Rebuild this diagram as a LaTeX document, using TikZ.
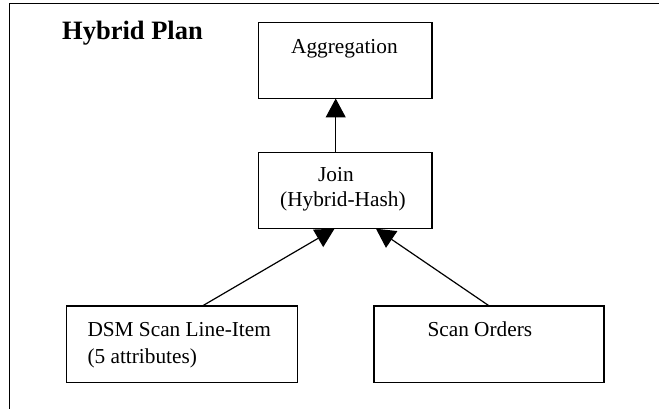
\documentclass[tikz,border=0pt]{standalone}
\usepackage{fontspec}
\setmainfont{Liberation Serif}
\usetikzlibrary{arrows.meta}
\begin{document}
\begin{tikzpicture}[x=1pt,y=-1pt,
  opbox/.style={draw=black, line width=1.4pt, fill=white, rectangle, inner sep=0pt, outer sep=0pt},
  lbl/.style={anchor=base west, inner sep=0pt, font=\fontsize{21.3}{25}\selectfont},
  ttl/.style={anchor=base west, inner sep=0pt, font=\fontsize{26.5}{30}\selectfont\bfseries},
  arr/.style={line width=1.2pt, -{Triangle[length=19pt,width=20pt]}},
  frame/.style={line width=1pt}]
\useasboundingbox (0,0) rectangle (659,409);
% frame
\coordinate (fb) at (9.5,409);
\coordinate (fc) at (9.5,3.5);
\coordinate (fr) at (659,3.5);
\draw[frame] (fb) -- (fc) -- (fr);
% boxes
\node[opbox, minimum width=173.5pt, minimum height=76.2pt] (agg) at (345.25,60.4) {};
\node[opbox, minimum width=173.5pt, minimum height=76.5pt] (join) at (345.25,190.5) {};
\node[opbox, minimum width=231pt, minimum height=76.5pt] (dsm) at (182.2,344.25) {};
\node[opbox, minimum width=230pt, minimum height=76.5pt] (scan) at (489,344.25) {};
% connectors
\draw[arr] ([xshift=-9.55pt]join.north) -- ([xshift=-9.55pt]agg.south);
\draw[arr] ([xshift=20.1pt]dsm.north) -- ([xshift=-10.75pt]join.south);
\draw[arr] ([xshift=0.3pt]scan.north) -- ([xshift=30.75pt]join.south);
% texts
\node[ttl] (title) at (62,39.3) {Hybrid Plan};
\node[lbl] (aggt) at (291,53.3) {Aggregation};
\node[lbl] (joint1) at (318,181.7) {Join};
\node[lbl] (joint2) at (280,206.7) {(Hybrid-Hash)};
\node[lbl] (dsmt1) at (87.3,336) {DSM Scan Line-Item};
\node[lbl] (dsmt2) at (87.3,363) {(5 attributes)};
\node[lbl] (scant) at (427.3,336) {Scan Orders};
\end{tikzpicture}
\end{document}
